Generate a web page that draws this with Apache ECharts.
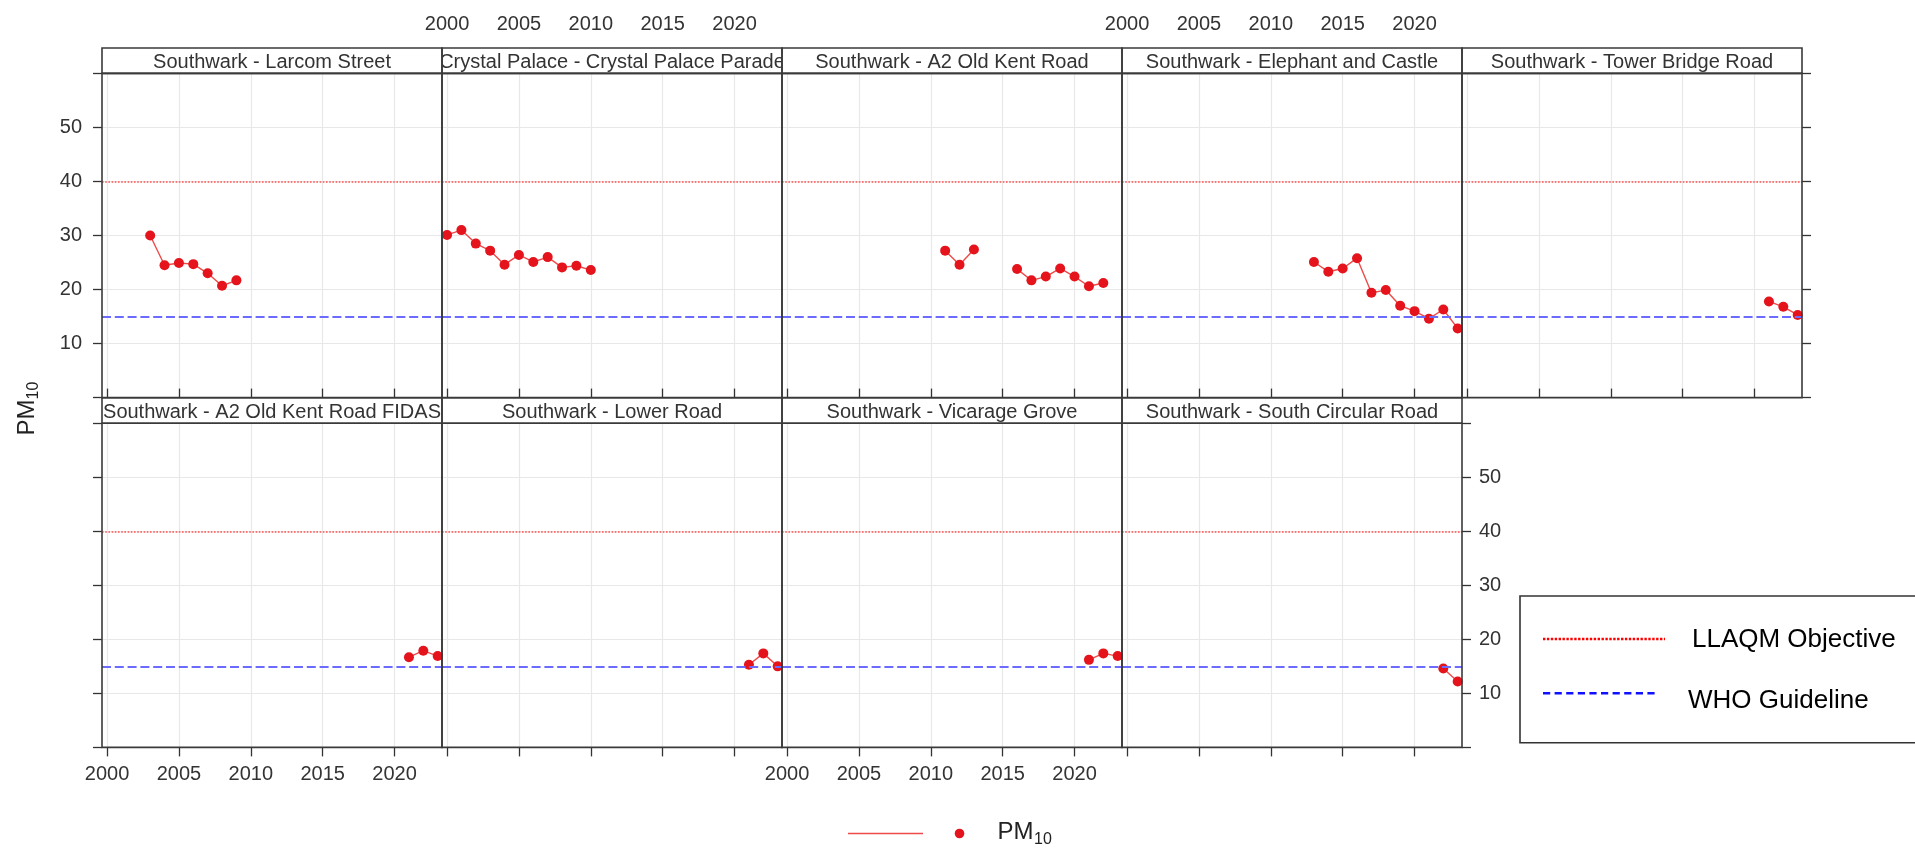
<!DOCTYPE html>
<html>
<head>
<meta charset="utf-8">
<script src="https://cdn.jsdelivr.net/npm/echarts@6/dist/echarts.min.js"></script>
<style>
  html, body { margin: 0; padding: 0; background: #ffffff; }
  #chart { width: 1915px; height: 848px; }
</style>
</head>
<body>
<div id="chart"></div>
<script>
// Annual mean PM10 (µg/m³) by monitoring site, one value per year (null = no data)
const years = [2000, 2001, 2002, 2003, 2004, 2005, 2006, 2007, 2008, 2009, 2010, 2011,
               2012, 2013, 2014, 2015, 2016, 2017, 2018, 2019, 2020, 2021, 2022, 2023];

const siteNames = [
  'Southwark - Larcom Street',
  'Crystal Palace - Crystal Palace Parade',
  'Southwark - A2 Old Kent Road',
  'Southwark - Elephant and Castle',
  'Southwark - Tower Bridge Road',
  'Southwark - A2 Old Kent Road FIDAS',
  'Southwark - Lower Road',
  'Southwark - Vicarage Grove',
  'Southwark - South Circular Road'
];

const larcomStreet       = [null, null, null, 30.0, 24.5, 24.9, 24.7, 23.0, 20.7, 21.7, null, null,
                            null, null, null, null, null, null, null, null, null, null, null, null];
const crystalPalace      = [30.1, 31.0, 28.5, 27.2, 24.6, 26.4, 25.1, 26.0, 24.1, 24.4, 23.6, null,
                            null, null, null, null, null, null, null, null, null, null, null, null];
const oldKentRoad        = [null, null, null, null, null, null, null, null, null, null, null, 27.2,
                            24.6, 27.4, null, null, 23.8, 21.7, 22.4, 23.9, 22.4, 20.6, 21.2, null];
const elephantAndCastle  = [null, null, null, null, null, null, null, null, null, null, null, null,
                            null, 25.1, 23.3, 23.9, 25.8, 19.4, 19.9, 17.0, 16.0, 14.6, 16.3, 12.8];
const towerBridgeRoad    = [null, null, null, null, null, null, null, null, null, null, null, null,
                            null, null, null, null, null, null, null, null, null, 17.8, 16.8, 15.3];
const oldKentRoadFidas   = [null, null, null, null, null, null, null, null, null, null, null, null,
                            null, null, null, null, null, null, null, null, null, 16.7, 17.9, 16.9];
const lowerRoad          = [null, null, null, null, null, null, null, null, null, null, null, null,
                            null, null, null, null, null, null, null, null, null, 15.3, 17.4, 15.0];
const vicarageGrove      = [null, null, null, null, null, null, null, null, null, null, null, null,
                            null, null, null, null, null, null, null, null, null, 16.2, 17.4, 16.9];
const southCircularRoad  = [null, null, null, null, null, null, null, null, null, null, null, null,
                            null, null, null, null, null, null, null, null, null, null, 14.6, 12.2];

const siteValues = [larcomStreet, crystalPalace, oldKentRoad, elephantAndCastle, towerBridgeRoad,
                    oldKentRoadFidas, lowerRoad, vicarageGrove, southCircularRoad];

const yearTicks = [2000, 2005, 2010, 2015, 2020];
const pmTickLabels = [10, 20, 30, 40, 50];
const llaqmObjective = 40;
const whoGuideline = 15;

// ---- layout and style ----
const FONT = "'Liberation Sans', Arial, Helvetica, sans-serif";
const PANEL_LEFT = 102, PANEL_W = 340, PANEL_H = 324.2, STRIP_H = 25.4;
const ROW_TOP = [73.4, 423.2];
const COLS = 5;
const X_MIN = 1999.65, X_MAX = 2023.3;
const BORDER = '#3a3a3a';
const GRIDLINE = '#e8e8e8';
const TICK_COLOR = '#333333';
const POINT_RED = '#e4131c';
const LINE_RED = '#ee4a4a';

const measureCtx = document.createElement('canvas').getContext('2d');
measureCtx.font = '20px ' + FONT;

const grids = [], xAxes = [], yAxes = [], series = [], graphics = [];

siteNames.forEach((name, i) => {
  const row = i < COLS ? 0 : 1;
  const col = i % COLS;
  const left = PANEL_LEFT + col * PANEL_W;
  const top = ROW_TOP[row];
  const lastInRow = row === 0 ? COLS - 1 : siteNames.length - COLS - 1;

  grids.push({ left: left, top: top, width: PANEL_W, height: PANEL_H, show: false });

  const showXLabels = row === 0 ? (col % 2 === 1) : (col % 2 === 0);
  xAxes.push({
    gridIndex: i, type: 'value', min: X_MIN, max: X_MAX,
    position: row === 0 ? 'top' : 'bottom',
    offset: row === 0 ? STRIP_H : 0,
    axisLine: { show: false },
    axisTick: { show: true, length: 9, customValues: yearTicks,
                lineStyle: { color: TICK_COLOR, width: 1.3 } },
    axisLabel: { show: showXLabels, customValues: yearTicks, margin: row === 0 ? 14 : 17,
                 formatter: v => String(v),
                 fontSize: 20, color: '#333333', fontFamily: FONT },
    splitLine: { show: true, lineStyle: { color: GRIDLINE, width: 1.2 } }
  });

  const onRight = col === lastInRow;
  const edge = col === 0 || onRight;
  const showYLabels = (row === 0 && col === 0) || (row === 1 && onRight);
  yAxes.push({
    gridIndex: i, type: 'value', min: 0, max: 60, interval: 10,
    position: onRight ? 'right' : 'left',
    axisLine: { show: false },
    axisTick: { show: edge, length: 9, lineStyle: { color: TICK_COLOR, width: 1.3 } },
    axisLabel: { show: showYLabels, customValues: pmTickLabels, margin: onRight ? 17 : 20,
                 formatter: v => String(v),
                 fontSize: 20, color: '#333333', fontFamily: FONT },
    splitLine: { show: true, lineStyle: { color: GRIDLINE, width: 1.2 } }
  });

  series.push({
    name: name, type: 'line', xAxisIndex: i, yAxisIndex: i,
    data: years.map((y, k) => [y, siteValues[i][k]]),
    connectNulls: false, symbol: 'circle', symbolSize: 10,
    itemStyle: { color: POINT_RED },
    lineStyle: { color: LINE_RED, width: 1.4 },
    silent: true, animation: false, z: 3,
    markLine: {
      silent: true, symbol: 'none', animation: false, label: { show: false },
      data: [
        { yAxis: llaqmObjective, lineStyle: { color: '#ff4d4d', width: 1.5, type: [1.6, 1.6] } },
        { yAxis: whoGuideline, lineStyle: { color: '#6b6bff', width: 2, type: [9, 3.8] } }
      ]
    }
  });

  // strip above the panel
  const stripTop = top - STRIP_H;
  graphics.push({ type: 'rect', z: 50, silent: true,
    shape: { x: left, y: stripTop, width: PANEL_W, height: STRIP_H },
    style: { fill: '#ffffff', stroke: null } });
  graphics.push({ type: 'text', z: 51, silent: true,
    x: left + PANEL_W / 2, y: stripTop + STRIP_H / 2 + 1.5,
    style: { text: name, font: '20px ' + FONT, fill: '#333333',
             textAlign: 'center', textVerticalAlign: 'middle' } });
  const overflow = (measureCtx.measureText(name).width - PANEL_W) / 2;
  if (overflow > 0) {
    [left - overflow - 3, left + PANEL_W].forEach(mx => {
      graphics.push({ type: 'rect', z: 52, silent: true,
        shape: { x: mx, y: stripTop + 1, width: overflow + 3, height: STRIP_H - 2 },
        style: { fill: '#ffffff' } });
    });
  }
  graphics.push({ type: 'rect', z: 60, silent: true,
    shape: { x: left, y: stripTop, width: PANEL_W, height: STRIP_H },
    style: { fill: null, stroke: BORDER, lineWidth: 1.6 } });
  graphics.push({ type: 'rect', z: 60, silent: true,
    shape: { x: left, y: top, width: PANEL_W, height: PANEL_H },
    style: { fill: null, stroke: BORDER, lineWidth: 1.6 } });
});

// y-axis title PM10 (rotated)
graphics.push({ type: 'text', z: 60, silent: true, x: 27.5, y: 417.5, rotation: Math.PI / 2,
  style: { text: 'PM', font: '24px ' + FONT, fill: '#222222', textAlign: 'center', textVerticalAlign: 'middle' } });
graphics.push({ type: 'text', z: 60, silent: true, x: 34, y: 390.5, rotation: Math.PI / 2,
  style: { text: '10', font: '16px ' + FONT, fill: '#222222', textAlign: 'center', textVerticalAlign: 'middle' } });

// series key below the panels
graphics.push({ type: 'line', z: 60, silent: true,
  shape: { x1: 848, y1: 833.5, x2: 923, y2: 833.5 }, style: { stroke: LINE_RED, lineWidth: 1.5 } });
graphics.push({ type: 'circle', z: 60, silent: true,
  shape: { cx: 959.5, cy: 833.5, r: 4.8 }, style: { fill: POINT_RED } });
graphics.push({ type: 'text', z: 60, silent: true, x: 997.5, y: 832,
  style: { text: 'PM', font: '24px ' + FONT, fill: '#222222', textAlign: 'left', textVerticalAlign: 'middle' } });
graphics.push({ type: 'text', z: 60, silent: true, x: 1034, y: 839.5,
  style: { text: '10', font: '16px ' + FONT, fill: '#222222', textAlign: 'left', textVerticalAlign: 'middle' } });

// reference-line key on the right
graphics.push({ type: 'rect', z: 60, silent: true,
  shape: { x: 1520, y: 596, width: 420, height: 146.7 },
  style: { fill: '#ffffff', stroke: '#333333', lineWidth: 1.6 } });
graphics.push({ type: 'line', z: 61, silent: true,
  shape: { x1: 1543, y1: 639, x2: 1665, y2: 639 },
  style: { stroke: '#ff0000', lineWidth: 2.5, lineDash: [2.4, 1.5] } });
graphics.push({ type: 'text', z: 61, silent: true, x: 1692, y: 639.5,
  style: { text: 'LLAQM Objective', font: '26px ' + FONT, fill: '#000000', textAlign: 'left', textVerticalAlign: 'middle' } });
graphics.push({ type: 'line', z: 61, silent: true,
  shape: { x1: 1543, y1: 693.3, x2: 1659, y2: 693.3 },
  style: { stroke: '#1010ff', lineWidth: 2.5, lineDash: [7.2, 4.4] } });
graphics.push({ type: 'text', z: 61, silent: true, x: 1688, y: 701,
  style: { text: 'WHO Guideline', font: '26px ' + FONT, fill: '#000000', textAlign: 'left', textVerticalAlign: 'middle' } });

const chart = echarts.init(document.getElementById('chart'), null, { renderer: 'canvas', width: 1915, height: 848 });
chart.setOption({
  animation: false,
  backgroundColor: '#ffffff',
  grid: grids,
  xAxis: xAxes,
  yAxis: yAxes,
  series: series,
  graphic: { elements: graphics }
});
</script>
</body>
</html>
